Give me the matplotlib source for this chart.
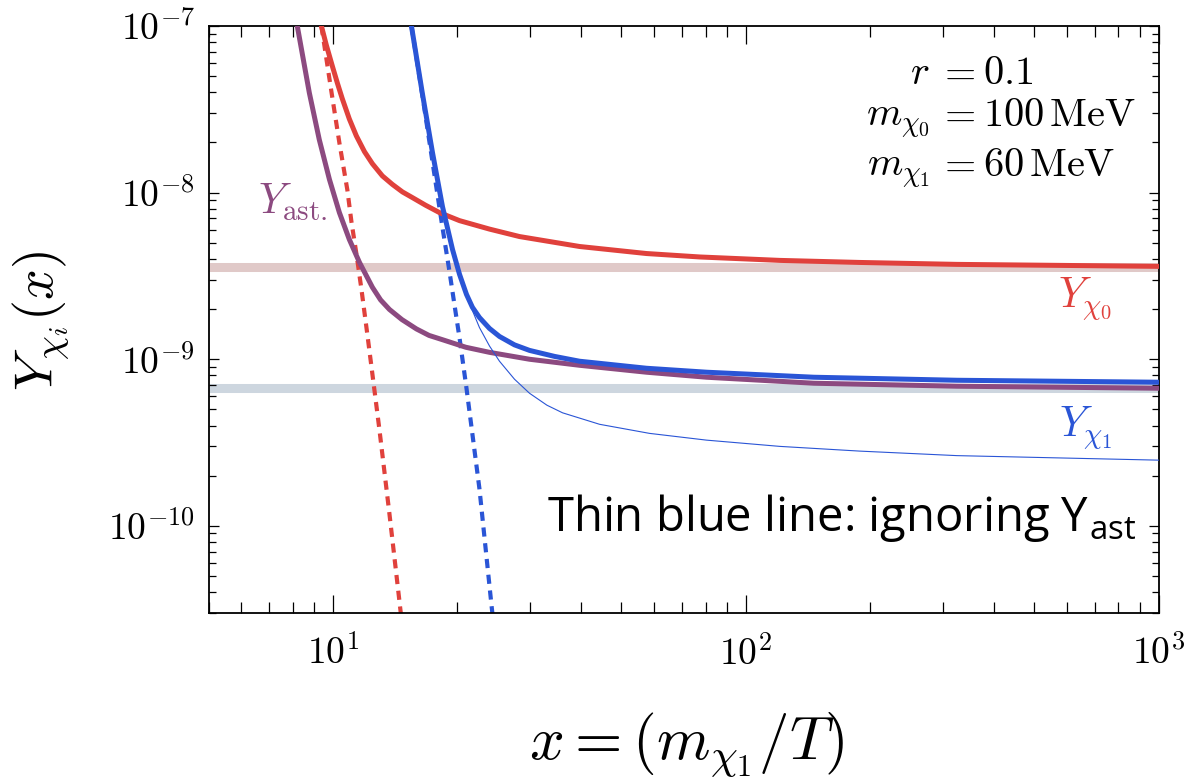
import math
import matplotlib
matplotlib.use("Agg")
import matplotlib.pyplot as plt
from matplotlib.ticker import FuncFormatter, LogLocator, NullFormatter, FixedLocator

plt.rcParams['mathtext.fontset'] = 'cm'
plt.rcParams['font.family'] = 'DejaVu Sans'

# ---- data ----
x_chi0 = [9.38, 9.64, 9.97, 10.25, 10.54, 10.96, 11.40, 11.93, 12.47, 13.18, 13.94, 14.74, 15.59,
          16.76, 18.12, 20.27, 23.96, 28.32, 39.59, 57.5, 77.4, 120.9, 189, 324.8, 1000]
y_chi0 = [1.0e-7, 7.69e-8, 5.75e-8, 4.56e-8, 3.66e-8, 2.77e-8, 2.19e-8, 1.76e-8, 1.49e-8, 1.26e-8,
          1.12e-8, 1.01e-8, 9.33e-9, 8.41e-9, 7.59e-9, 6.79e-9, 6.04e-9, 5.45e-9, 4.75e-9, 4.31e-9,
          4.11e-9, 3.92e-9, 3.81e-9, 3.71e-9, 3.61e-9]

x_ast = [8.20, 8.77, 9.27, 9.81, 10.37, 10.96, 11.60, 12.47, 13.05, 13.71, 14.70, 15.94, 17.10,
         18.43, 21.0, 23.96, 29.95, 39.59, 57.5, 80.4, 146.2, 324.8, 1000]
y_ast = [1.0e-7, 3.97e-8, 2.08e-8, 1.20e-8, 7.59e-9, 5.24e-9, 3.81e-9, 2.70e-9, 2.27e-9, 1.99e-9,
         1.73e-9, 1.52e-9, 1.39e-9, 1.31e-9, 1.18e-9, 1.10e-9, 1.0e-9, 9.20e-10, 8.36e-10,
         7.80e-10, 7.18e-10, 6.89e-10, 6.70e-10]

x_chi1 = [15.50, 16.48, 17.43, 18.43, 19.49, 20.27, 21.07, 21.78, 22.65, 23.96, 25.33, 27.54,
          29.95, 34.44, 39.59, 57.5, 80.4, 146.2, 324.8, 1000]
y_chi1 = [1.0e-7, 3.92e-8, 1.74e-8, 8.24e-9, 4.56e-9, 3.23e-9, 2.45e-9, 2.05e-9, 1.78e-9, 1.53e-9,
          1.37e-9, 1.22e-9, 1.13e-9, 1.04e-9, 9.73e-10, 8.83e-10, 8.36e-10, 7.80e-10, 7.48e-10,
          7.28e-10]

x_chi1_noast = [15.50, 16.48, 17.43, 18.43, 19.49, 20.27, 21.07, 21.78, 22.65, 23.96, 25.33, 27.54,
                29.95, 33.0, 36.01, 44.27, 58.5, 80.4, 120.9, 189, 324.8, 1000]
y_chi1_noast = [1.0e-7, 3.92e-8, 1.74e-8, 8.24e-9, 4.56e-9, 3.23e-9, 2.45e-9, 1.96e-9, 1.55e-9,
                1.20e-9, 9.73e-10, 7.59e-10, 6.25e-10, 5.30e-10, 4.77e-10, 4.07e-10, 3.59e-10,
                3.27e-10, 3.00e-10, 2.81e-10, 2.64e-10, 2.48e-10]

x_eq0 = [9.38, 9.92, 10.37, 10.84, 11.09, 11.40, 11.73, 12.12, 12.61, 12.96, 13.71, 14.50, 14.65]
y_eq0 = [1.0e-7, 4.03e-8, 1.99e-8, 1.04e-8, 6.70e-9, 4.31e-9, 2.62e-9, 1.41e-9, 6.52e-10, 3.81e-10,
         1.18e-10, 3.51e-11, 2.8e-11]

x_eq1 = [15.50, 16.48, 17.43, 18.43, 19.16, 19.70, 20.27, 21.07, 22.65, 24.23, 24.43]
y_eq1 = [1.0e-7, 3.81e-8, 1.53e-8, 6.17e-9, 3.37e-9, 2.13e-9, 1.34e-9, 6.70e-10, 1.67e-10,
         3.32e-11, 2.77e-11]

obs_chi0 = 3.57e-9
obs_chi1 = 6.70e-10

xlim = (5, 1000)
ylim = (3e-11, 1e-7)
xticks = [10, 100, 1000]
yticks = [1e-10, 1e-9, 1e-8, 1e-7]

red = '#e0413c'
blue = '#2a55d6'
purple = '#8c4a80'

W, H = 1192, 779
fig = plt.figure(figsize=(W / 100, H / 100), dpi=100)
L, R, T, B = 208.6, 1158.5, 26, 613
ax = fig.add_axes([L / W, 1 - B / H, (R - L) / W, (B - T) / H])
ax.set_xscale('log')
ax.set_yscale('log')

ax.axhline(obs_chi0, color='#e0c9c8', lw=6.5, zorder=1, solid_capstyle='butt')
ax.axhline(obs_chi1, color='#cdd6df', lw=6.5, zorder=1, solid_capstyle='butt')

ax.plot(x_eq0, y_eq0, color=red, lw=3, ls=(0, (2.2, 1.6)), zorder=2)
ax.plot(x_eq1, y_eq1, color=blue, lw=3, ls=(0, (2.2, 1.6)), zorder=2)
ax.plot(x_ast, y_ast, color=purple, lw=3.6, zorder=3, solid_joinstyle='round')
ax.plot(x_chi0, y_chi0, color=red, lw=3.6, zorder=3, solid_joinstyle='round')
ax.plot(x_chi1_noast, y_chi1_noast, color=blue, lw=0.8, zorder=3)
ax.plot(x_chi1, y_chi1, color=blue, lw=3.6, zorder=4, solid_joinstyle='round')

ax.set_xlim(*xlim)
ax.set_ylim(*ylim)

fmt = FuncFormatter(lambda v, p: r'$10^{%d}$' % round(math.log10(v)))
ax.xaxis.set_major_locator(FixedLocator(xticks))
ax.yaxis.set_major_locator(FixedLocator(yticks))
ax.xaxis.set_major_formatter(fmt)
ax.yaxis.set_major_formatter(fmt)
ax.xaxis.set_minor_formatter(NullFormatter())
ax.yaxis.set_minor_formatter(NullFormatter())
ax.xaxis.set_minor_locator(LogLocator(base=10, subs=range(2, 10), numticks=20))
ax.yaxis.set_minor_locator(LogLocator(base=10, subs=range(2, 10), numticks=20))
ax.tick_params(which='both', direction='in', top=True, right=True, width=0.9, colors='black',
               labelsize=27)
ax.tick_params(axis='x', which='major', length=13, pad=16)
ax.tick_params(axis='x', which='minor', length=8)
ax.tick_params(axis='y', which='major', length=7.5, pad=10)
ax.tick_params(axis='y', which='minor', length=5)
for s in ax.spines.values():
    s.set_linewidth(1.3)

fig.text(40 / W, 1 - 321 / H, r'$Y_{\chi_i}(x)$', fontsize=39, rotation=90, ha='center', va='center')
fig.text(687 / W, 1 - 745 / H, r'$x = (m_{\chi_1}/T)$', fontsize=44, ha='center', va='center')

ax.text(665, 2.29e-9, r'$Y_{\chi_0}$', color=red, fontsize=30, ha='center', va='center')
ax.text(665, 3.86e-10, r'$Y_{\chi_1}$', color=blue, fontsize=30, ha='center', va='center')
ax.text(7.98, 8.83e-9, r'$Y_{\rm ast.}$', color=purple, fontsize=30, ha='center', va='center')

def px(xp, yp):
    return ((xp - L) / (R - L), (B - yp) / (B - T))

for lhs, rhs, yp in [(r'$r$', r'$0.1$', 84),
                     (r'$m_{\chi_0}$', r'$100\,\mathrm{MeV}$', 126),
                     (r'$m_{\chi_1}$', r'$60\,\mathrm{MeV}$', 176)]:
    ax.text(*px(930, yp), lhs, transform=ax.transAxes, fontsize=29, ha='right', va='baseline')
    ax.text(*px(956, yp), r'$=$', transform=ax.transAxes, fontsize=29, ha='center', va='baseline')
    ax.text(*px(983, yp), rhs, transform=ax.transAxes, fontsize=29, ha='left', va='baseline')

ax.text(*px(842, 518), r'Thin blue line: ignoring Y$_{\mathdefault{ast}}$', transform=ax.transAxes,
        fontsize=34, ha='center', va='center', family='Open Sans')

fig.savefig('out.png', dpi=100)
